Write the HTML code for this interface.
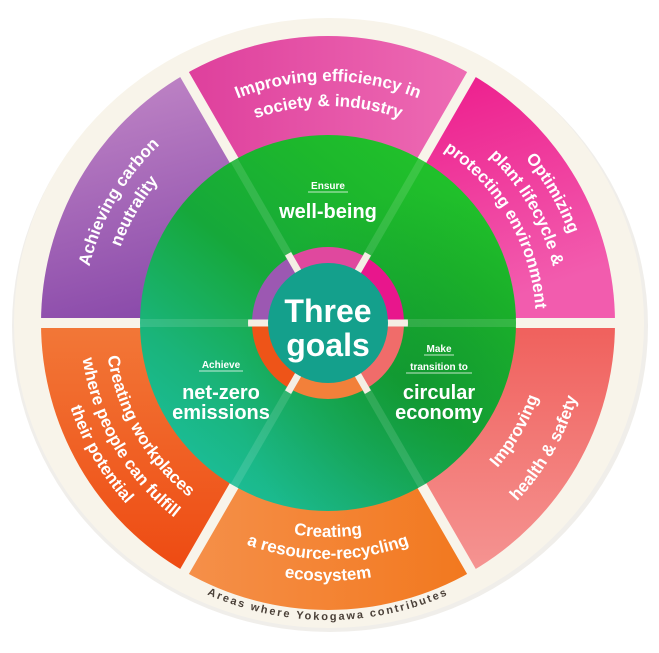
<!DOCTYPE html>
<html><head><meta charset="utf-8"><style>
html,body{margin:0;padding:0;background:#fff;width:659px;height:653px;overflow:hidden}
svg{display:block}
text{font-family:"Liberation Sans",sans-serif;font-weight:bold;fill:#fff}
</style></head><body>
<svg width="659" height="653" viewBox="0 0 659 653" xmlns="http://www.w3.org/2000/svg">
<defs>
<linearGradient id="gTop" x1="0" y1="0" x2="1" y2="0"><stop offset="0" stop-color="#de3f9c"/><stop offset="1" stop-color="#ee6cb4"/></linearGradient>
<linearGradient id="gUR" x1="0" y1="0" x2="0.4" y2="1"><stop offset="0" stop-color="#ec1488"/><stop offset="1" stop-color="#f25cae"/></linearGradient>
<linearGradient id="gLR" x1="0" y1="0" x2="0" y2="1"><stop offset="0" stop-color="#f0605c"/><stop offset="1" stop-color="#f59492"/></linearGradient>
<linearGradient id="gB" x1="0" y1="0" x2="1" y2="0"><stop offset="0" stop-color="#f5904a"/><stop offset="1" stop-color="#f2781e"/></linearGradient>
<linearGradient id="gLL" x1="0" y1="0" x2="0" y2="1"><stop offset="0" stop-color="#f27838"/><stop offset="1" stop-color="#ee4a12"/></linearGradient>
<linearGradient id="gUL" x1="0" y1="0" x2="0.3" y2="1"><stop offset="0" stop-color="#c48ac8"/><stop offset="1" stop-color="#8a4aaa"/></linearGradient>
<linearGradient id="gG" x1="0" y1="1" x2="0.8" y2="0"><stop offset="0" stop-color="#1cc4b0"/><stop offset="0.3" stop-color="#1ab47a"/><stop offset="0.55" stop-color="#16a83a"/><stop offset="0.8" stop-color="#1db82c"/><stop offset="1" stop-color="#22c42a"/></linearGradient>
<radialGradient id="gDark" cx="0.75" cy="0.65" r="0.5"><stop offset="0" stop-color="#0a7a20" stop-opacity="0.35"/><stop offset="1" stop-color="#0a7a20" stop-opacity="0"/></radialGradient>
<clipPath id="ringClip"><circle cx="328" cy="323" r="80"/></clipPath>
<path id="t1" d="M100.6,240.2 A242,242 0 0 1 555.4,240.2"/>
<path id="t2" d="M124.1,248.8 A217,217 0 0 1 531.9,248.8"/>
<path id="ul1" d="M140.3,480.5 A245,245 0 0 1 370.5,81.7"/>
<path id="ul2" d="M158.7,465.1 A221,221 0 0 1 366.4,105.4"/>
<path id="ur1" d="M283.4,69.9 A257,257 0 0 1 524.9,488.2"/>
<path id="ur2" d="M287.7,94.5 A232,232 0 0 1 505.7,472.1"/>
<path id="ur3" d="M291.9,118.2 A208,208 0 0 1 487.3,456.7"/>
<path id="lr1" d="M289.3,542.6 A223,223 0 0 0 498.8,179.7"/>
<path id="lr2" d="M282.9,579.0 A260,260 0 0 0 527.2,155.9"/>
<path id="b1" d="M126.9,396.2 A214,214 0 0 0 529.1,396.2"/>
<path id="b2" d="M106.2,403.7 A236,236 0 0 0 549.8,403.7"/>
<path id="b3" d="M85.6,411.2 A258,258 0 0 0 570.4,411.2"/>
<path id="ar" d="M48.9,424.6 A297,297 0 0 0 607.1,424.6"/>
<path id="ll1" d="M157.2,179.7 A223,223 0 0 0 366.7,542.6"/>
<path id="ll2" d="M138.0,163.6 A248,248 0 0 0 371.1,567.2"/>
<path id="ll3" d="M120.4,148.8 A271,271 0 0 0 375.1,589.9"/>
</defs>
<ellipse cx="330" cy="326" rx="318" ry="306" fill="#e6e2dc" opacity="0.6"/>
<ellipse cx="329" cy="323" rx="315" ry="305" fill="#f8f4ea"/>
<g stroke-linejoin="round">
<path d="M328,323 L184.5,74.5 A287,287 0 0 1 471.5,74.5 Z" fill="url(#gTop)"/>
<path d="M328,323 L471.5,74.5 A287,287 0 0 1 615,323 Z" fill="url(#gUR)"/>
<path d="M328,323 L615,323 A287,287 0 0 1 471.5,571.5 Z" fill="url(#gLR)"/>
<path d="M328,323 L471.5,571.5 A287,287 0 0 1 184.5,571.5 Z" fill="url(#gB)"/>
<path d="M328,323 L184.5,571.5 A287,287 0 0 1 41,323 Z" fill="url(#gLL)"/>
<path d="M328,323 L41,323 A287,287 0 0 1 184.5,74.5 Z" fill="url(#gUL)"/>
</g>
<g stroke="#f8f4ea" stroke-width="10">
<line x1="182" y1="70.1" x2="474" y2="575.9"/>
<line x1="474" y1="70.1" x2="182" y2="575.9"/>
<line x1="36" y1="323" x2="620" y2="323"/>
</g>
<circle cx="328" cy="323" r="188" fill="url(#gG)"/>
<circle cx="328" cy="323" r="188" fill="url(#gDark)"/>
<g stroke="#ffffff" stroke-opacity="0.12" stroke-width="8">
<line x1="234" y1="160" x2="422" y2="486"/>
<line x1="422" y1="160" x2="234" y2="486"/>
<line x1="140" y1="323" x2="516" y2="323"/>
</g>
<path d="M328,323 L290,257.2 A76,76 0 0 1 366,257.2 Z" fill="#e0489e"/>
<path d="M328,323 L366,257.2 A76,76 0 0 1 404,323 Z" fill="#e8168c"/>
<path d="M328,323 L404,323 A76,76 0 0 1 366,388.8 Z" fill="#f06c6a"/>
<path d="M328,323 L366,388.8 A76,76 0 0 1 290,388.8 Z" fill="#f2803a"/>
<path d="M328,323 L290,388.8 A76,76 0 0 1 252,323 Z" fill="#ee5418"/>
<path d="M328,323 L252,323 A76,76 0 0 1 290,257.2 Z" fill="#9c58b2"/>
<g stroke="#f4eee4" stroke-width="7" clip-path="url(#ringClip)">
<line x1="182" y1="70.1" x2="474" y2="575.9"/>
<line x1="474" y1="70.1" x2="182" y2="575.9"/>
<line x1="36" y1="323" x2="620" y2="323"/>
</g>
<circle cx="328" cy="323" r="60" fill="#14a08c"/>
<text x="328" y="322" font-size="32" text-anchor="middle">Three</text>
<text x="328" y="356" font-size="32" text-anchor="middle">goals</text>
<text x="328" y="189" font-size="10" text-anchor="middle">Ensure</text>
<line x1="308" y1="192" x2="348" y2="192" stroke="#fff" stroke-width="0.8"/>
<text x="328" y="218" font-size="20" text-anchor="middle">well-being</text>
<text x="439" y="352" font-size="10" text-anchor="middle">Make</text>
<line x1="424" y1="355" x2="454" y2="355" stroke="#fff" stroke-width="0.8"/>
<text x="439" y="370" font-size="10" text-anchor="middle">transition to</text>
<line x1="406" y1="373" x2="472" y2="373" stroke="#fff" stroke-width="0.8"/>
<text x="439" y="399" font-size="20" text-anchor="middle">circular</text>
<text x="439" y="419" font-size="20" text-anchor="middle">economy</text>
<text x="221" y="368" font-size="10" text-anchor="middle">Achieve</text>
<line x1="199" y1="371" x2="243" y2="371" stroke="#fff" stroke-width="0.8"/>
<text x="221" y="399" font-size="20" text-anchor="middle">net-zero</text>
<text x="221" y="419" font-size="20" text-anchor="middle">emissions</text>
<g font-size="17">
<text><textPath href="#t1" startOffset="50%" text-anchor="middle">Improving efficiency in</textPath></text>
<text><textPath href="#t2" startOffset="50%" text-anchor="middle">society &amp; industry</textPath></text>
<text><textPath href="#ul1" startOffset="50%" text-anchor="middle">Achieving carbon</textPath></text>
<text><textPath href="#ul2" startOffset="50%" text-anchor="middle">neutrality</textPath></text>
<text><textPath href="#ur1" startOffset="50%" text-anchor="middle">Optimizing</textPath></text>
<text><textPath href="#ur2" startOffset="50%" text-anchor="middle">plant lifecycle &amp;</textPath></text>
<text><textPath href="#ur3" startOffset="50%" text-anchor="middle">protecting environment</textPath></text>
<text><textPath href="#lr1" startOffset="50%" text-anchor="middle">Improving</textPath></text>
<text><textPath href="#lr2" startOffset="50%" text-anchor="middle">health &amp; safety</textPath></text>
<text><textPath href="#b1" startOffset="50%" text-anchor="middle">Creating</textPath></text>
<text><textPath href="#b2" startOffset="50%" text-anchor="middle">a resource-recycling</textPath></text>
<text><textPath href="#b3" startOffset="50%" text-anchor="middle">ecosystem</textPath></text>
<text><textPath href="#ll1" startOffset="50%" text-anchor="middle">Creating workplaces</textPath></text>
<text><textPath href="#ll2" startOffset="50%" text-anchor="middle">where people can fulfill</textPath></text>
<text><textPath href="#ll3" startOffset="50%" text-anchor="middle">their potential</textPath></text>
</g>
<text font-size="11" letter-spacing="2" style="fill:#4a4038"><textPath href="#ar" startOffset="50%" text-anchor="middle">Areas where Yokogawa contributes</textPath></text>
</svg>
</body></html>
